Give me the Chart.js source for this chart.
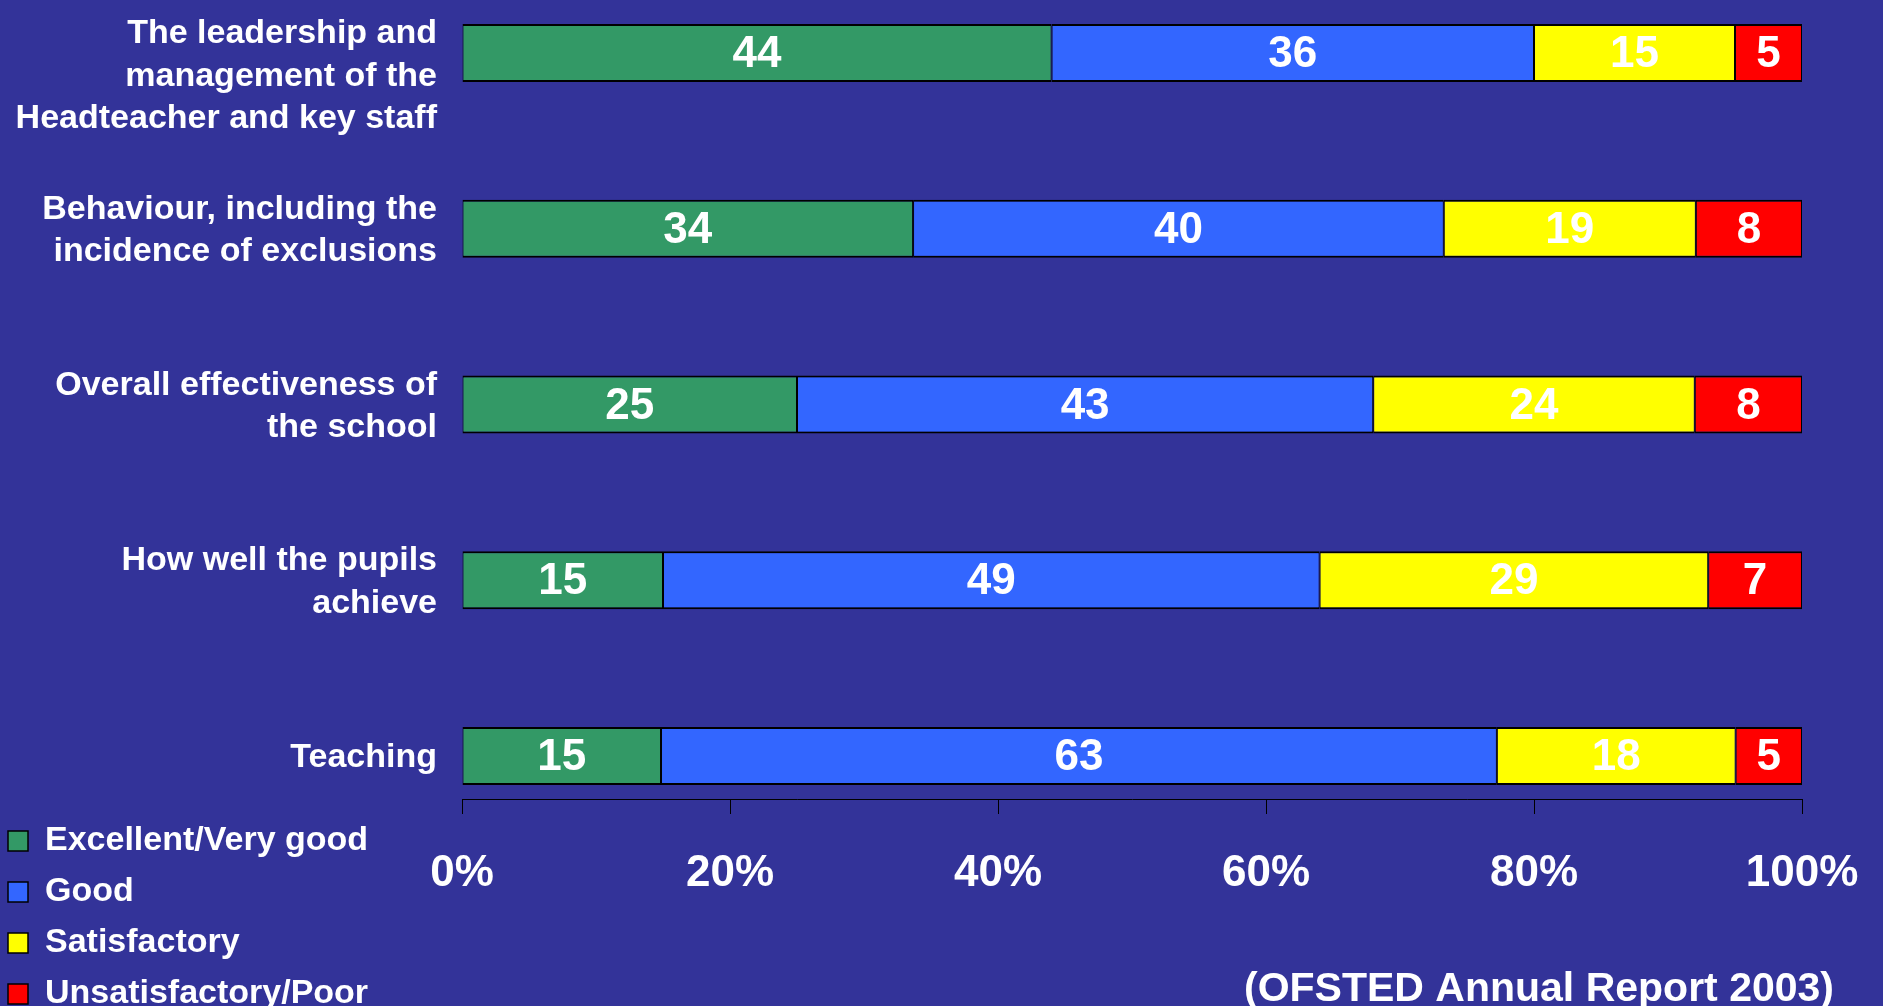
<!DOCTYPE html>
<html>
<head>
<meta charset="utf-8">
<script src="https://cdn.jsdelivr.net/npm/chart.js@4/dist/chart.umd.min.js"></script>
<style>
  html, body { margin: 0; padding: 0; background: #333399; overflow: hidden; }
  #wrap { width: 1883px; height: 1006px; }
</style>
</head>
<body>
<div id="wrap"><canvas id="barChart" width="1883" height="1006"></canvas></div>
<script>
// categories (top to bottom)
const categories = [
    ['The leadership and', 'management of the', 'Headteacher and key staff'],
    ['Behaviour, including the', 'incidence of exclusions'],
    ['Overall effectiveness of', 'the school'],
    ['How well the pupils', 'achieve'],
    ['Teaching']
];

const seriesNames = ['Excellent/Very good', 'Good', 'Satisfactory', 'Unsatisfactory/Poor'];
const seriesColors = ['#339966', '#3366FF', '#FFFF00', '#FF0000'];

// values as printed on the bars
const excellent = [44, 34, 25, 15, 15];
const good = [36, 40, 43, 49, 63];
const satisfactory = [15, 19, 24, 29, 18];
const poor = [5, 8, 8, 7, 5];

const xTicks = [0, 20, 40, 60, 80, 100];
const source = '(OFSTED Annual Report 2003)';

const FONT = "'Liberation Sans', Arial, sans-serif";
const series = [excellent, good, satisfactory, poor];

// 100% stacked: each row is scaled to its own total
const totals = categories.map((c, i) => series.reduce((s, arr) => s + arr[i], 0));

const datasets = series.map((vals, k) => ({
    label: seriesNames[k],
    data: vals.map((v, i) => ({ y: i, x: v / totals[i] * 100 })),
    raw: vals,
    backgroundColor: seriesColors[k],
    borderColor: '#000000',
    borderWidth: { top: 2, bottom: 2, left: 1, right: 1 },
    borderSkipped: false,
    barPercentage: 0.33,
    categoryPercentage: 1
}));

const barLabels = {
    id: 'barLabels',
    afterDatasetsDraw(chart) {
        const ctx = chart.ctx;
        ctx.save();
        ctx.font = 'bold 44px ' + FONT;
        ctx.fillStyle = '#ffffff';
        ctx.textAlign = 'center';
        ctx.textBaseline = 'middle';
        chart.data.datasets.forEach((ds, i) => {
            chart.getDatasetMeta(i).data.forEach((bar, j) => {
                const p = bar.getCenterPoint();
                ctx.fillText(String(ds.raw[j]), p.x, p.y + 2);
            });
        });
        ctx.restore();
    }
};

// legend sits under the category labels, below the axis
const legendPlace = {
    id: 'legendPlace',
    afterLayout(chart) {
        const lg = chart.legend;
        lg.left = -9;
        lg.right = 440;
        lg.top = 807;
        lg.bottom = 1107;
    }
};

const ctx = document.getElementById('barChart').getContext('2d');

new Chart(ctx, {
    type: 'bar',
    data: { datasets: datasets },
    plugins: [barLabels, legendPlace],
    options: {
        indexAxis: 'y',
        responsive: false,
        maintainAspectRatio: false,
        animation: false,
        devicePixelRatio: 1,
        layout: { padding: { top: 10, right: 49, left: 0, bottom: 0 } },
        scales: {
            x: {
                type: 'linear',
                position: 'bottom',
                stacked: true,
                min: 0,
                max: 100,
                afterBuildTicks: (s) => { s.ticks = xTicks.map(v => ({ value: v })); },
                afterFit: (s) => { s.height = 166; s.paddingRight = 81; },
                ticks: {
                    color: '#ffffff',
                    font: { family: FONT, size: 44, weight: 'bold' },
                    padding: 33,
                    maxRotation: 0,
                    callback: (v) => v + '%'
                },
                grid: {
                    drawOnChartArea: false,
                    drawTicks: true,
                    tickLength: 15,
                    color: '#000000'
                },
                border: { display: true, color: '#000000', width: 1 }
            },
            y: {
                type: 'linear',
                stacked: true,
                reverse: true,
                offset: false,
                min: -0.245,
                max: 4.245,
                afterBuildTicks: (s) => { s.ticks = categories.map((c, i) => ({ value: i })); },
                afterFit: (s) => {
                    s.width = 462 - s.chart.legend.width;
                    s.paddingTop = 0;
                    s.paddingBottom = 0;
                },
                ticks: {
                    color: '#ffffff',
                    font: { family: FONT, size: 34, weight: 'bold', lineHeight: 1.25 },
                    padding: 25,
                    labelOffset: 2,
                    // first label is pushed down a line so it stays inside the page
                    callback: (v) => v === 0 ? [''].concat(categories[v]) : categories[v]
                },
                grid: { display: false, drawTicks: false, offset: false },
                border: { display: false }
            }
        },
        plugins: {
            legend: {
                position: 'left',
                align: 'start',
                maxWidth: 1,
                labels: {
                    color: '#ffffff',
                    font: { family: FONT, size: 34, weight: 'bold' },
                    boxWidth: 20,
                    boxHeight: 20,
                    padding: 17
                }
            },
            title: {
                display: true,
                position: 'bottom',
                align: 'end',
                text: source,
                color: '#ffffff',
                font: { family: FONT, size: 41, weight: 'bold', lineHeight: 1 },
                padding: { top: 4, bottom: -4 }
            },
            tooltip: { enabled: false }
        }
    }
});
</script>
</body>
</html>
